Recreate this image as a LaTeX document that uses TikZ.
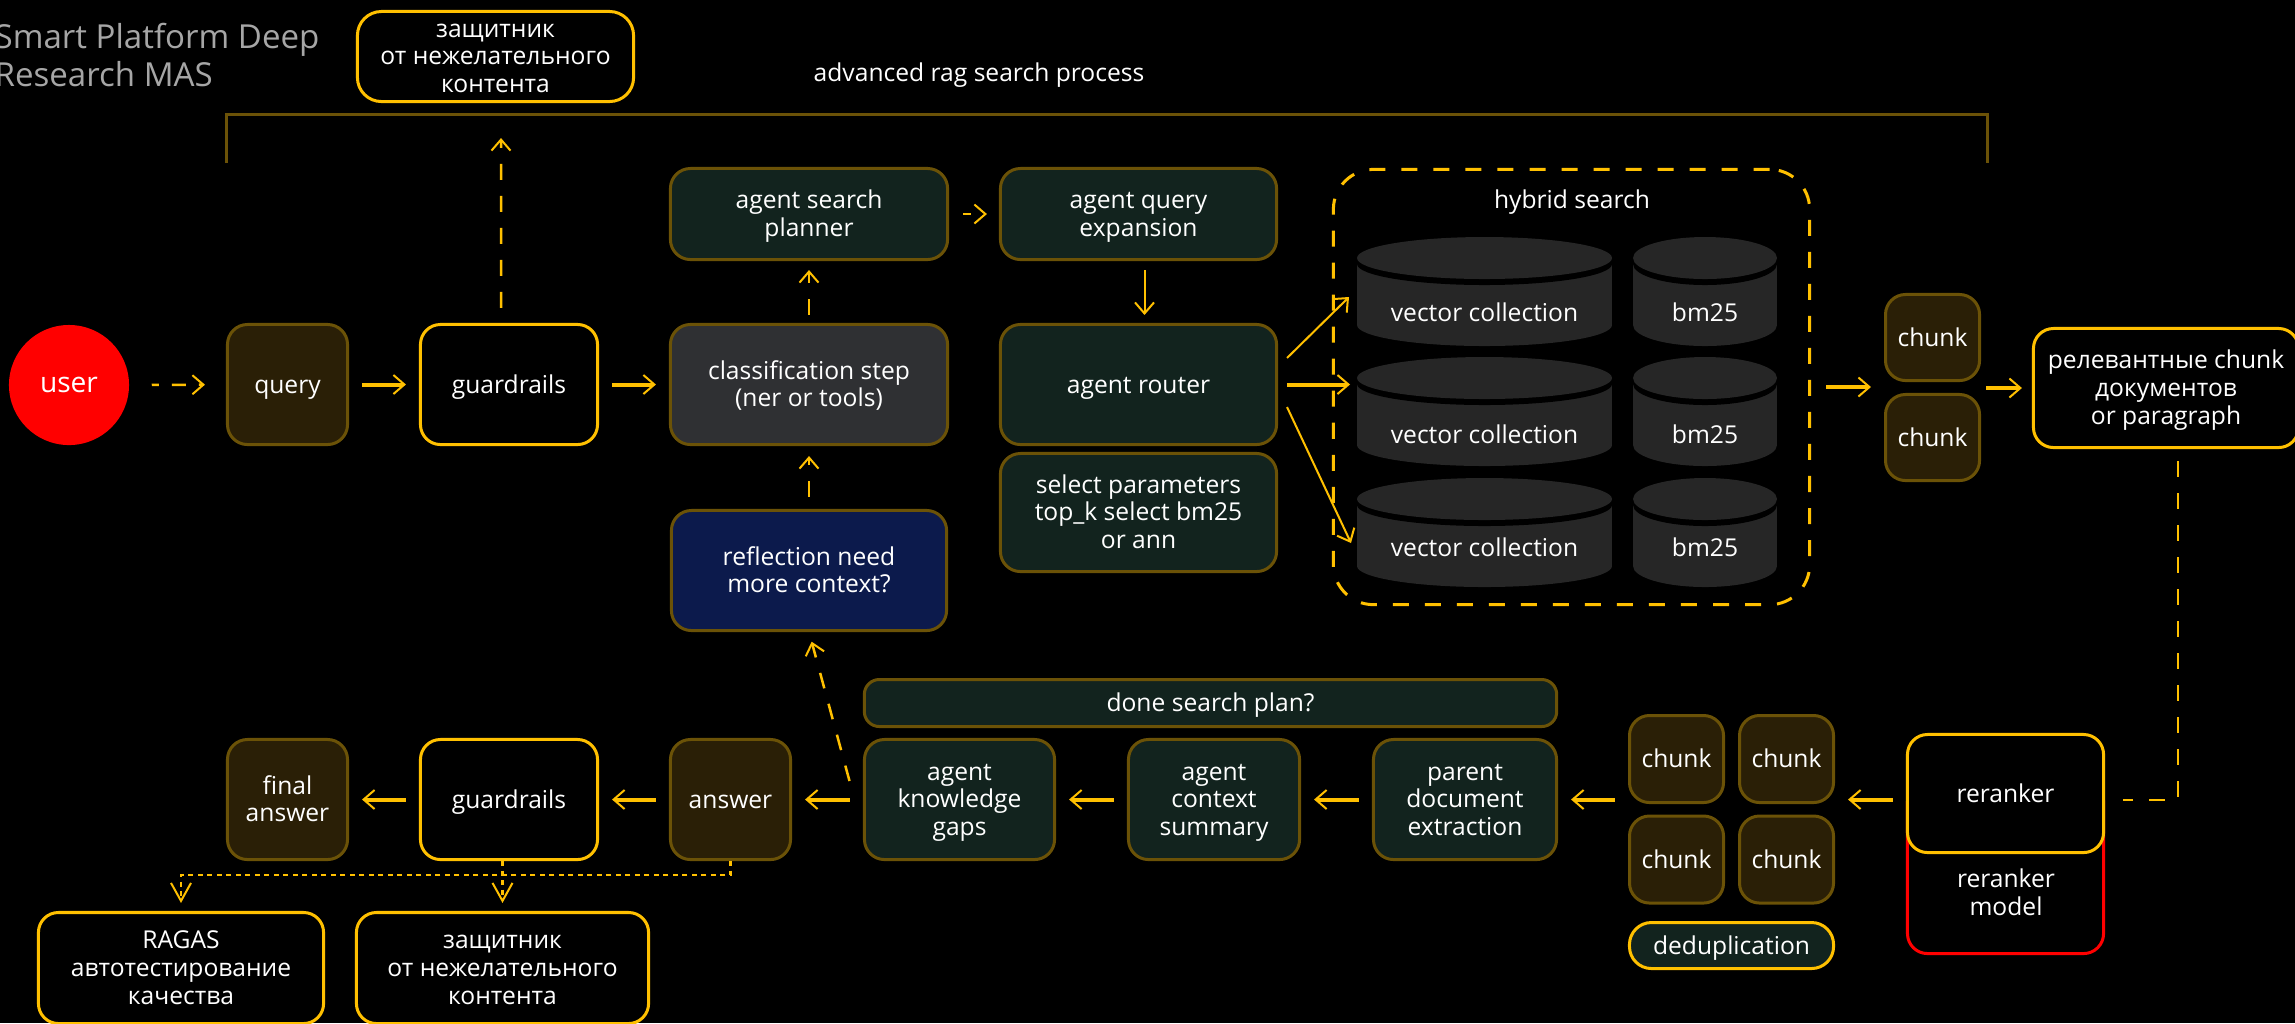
\documentclass[tikz,border=0pt]{standalone}
\usepackage{fontspec}
\usepackage{xcolor}
\usepackage{tikz}
\usetikzlibrary{arrows.meta, positioning}
\setmainfont{Open Sans}

\definecolor{gold}{HTML}{FFC000}
\definecolor{darkgold}{HTML}{6B5207}
\definecolor{greenfill}{HTML}{12231E}
\definecolor{brownfill}{HTML}{2A1F06}
\definecolor{greyfill}{HTML}{2F3033}
\definecolor{navyfill}{HTML}{0C1A4C}
\definecolor{cylfill}{HTML}{262626}
\definecolor{titlegrey}{HTML}{A6A6A6}

\tikzset{
    labeltext/.style={align=center, text=white, font=\fontsize{7}{7.9}\selectfont,
        text height=7.2pt, text depth=2.37pt},
    lines2/.style={text height=15.07pt},
    lines3/.style={text height=22.97pt},
    box/.style={labeltext, rounded corners=0.2cm, line width=0.03cm, inner sep=0pt},
    goldbox/.style={box, draw=gold, fill=black},
    brownbox/.style={box, draw=darkgold, fill=brownfill},
    greenbox/.style={box, draw=darkgold, fill=greenfill},
    redbox/.style={box, draw=red, fill=black},
    plain/.style={labeltext},
    barb/.style={-{Straight Barb[length=0.11cm, width=0.19cm, line width=0.02cm]}},
    solidarr/.style={barb, draw=gold, line width=0.04cm, shorten <=0.13cm, shorten >=0.13cm},
    thinarr/.style={barb, draw=gold, line width=0.02cm},
    dasharr/.style={barb, draw=gold, line width=0.025cm, dash pattern=on 0.16cm off 0.16cm},
    dotarr/.style={draw=gold, line width=0.025cm, dash pattern=on 0.05cm off 0.045cm,
        -{Straight Barb[length=0.18cm, width=0.2cm, line width=0.02cm]}}
}

\begin{document}
\begin{tikzpicture}[x=0.01cm, y=-0.01cm]
        \useasboundingbox (0,0) rectangle (2295,1023);
        \clip (0,0) rectangle (2295,1023);
        \fill[black] (0,0) rectangle (2295,1023);

        % Title and bracket
        \node[anchor=west, align=left, text=titlegrey, inner sep=0pt, font=\fontsize{9.4}{10.8}\selectfont] (title) at (-6,55) {Smart Platform Deep\\Research MAS};
        \node[plain] (ragtitle) at (979,73) {advanced rag search process};
        \draw[darkgold, line width=0.03cm] (226,163) -- (226,114) -- (1987,114) -- (1987,163);

        % Top row
        \node[circle, fill=red, text=white, inner sep=0pt, minimum size=1.2cm, font=\fontsize{8}{9}\selectfont] (user) at (69,385) {user};
        \node[brownbox, minimum width=1.2cm, minimum height=1.2cm] (query) at (287.5,384.5) {query};
        \node[goldbox, minimum width=1.77cm, minimum height=1.2cm] (guardA) at (509,384.5) {guardrails};
        \node[box, lines2, draw=darkgold, fill=greyfill, minimum width=2.77cm, minimum height=1.2cm] (classify) at (809,384.5) {classification step\\(ner or tools)};
        \node[goldbox, lines3, rounded corners=0.24cm, minimum width=2.76cm, minimum height=0.9cm] (shieldA) at (495.5,56.5) {защитник\\от нежелательного\\контента};
        \node[greenbox, lines2, minimum width=2.77cm, minimum height=0.91cm] (planner) at (809,214) {agent search\\planner};
        \node[greenbox, lines2, minimum width=2.76cm, minimum height=0.91cm] (expansion) at (1138.5,214) {agent query\\expansion};
        \node[greenbox, minimum width=2.76cm, minimum height=1.2cm] (router) at (1138.5,384.5) {agent router};
        \node[greenbox, lines3, minimum width=2.76cm, minimum height=1.18cm] (params) at (1138.5,512.5) {select parameters\\top\_k select bm25\\or ann};
        \node[box, lines2, draw=darkgold, fill=navyfill, minimum width=2.75cm, minimum height=1.2cm] (reflection) at (809,570.5) {reflection need\\more context?};

        % Hybrid search
        \node[box, rounded corners=0.4cm, draw=gold, dash pattern=on 0.16cm off 0.16cm, minimum width=4.76cm, minimum height=4.35cm] (hybrid) at (1571.5,387) {};
        \node[plain] (hybridlabel) at (1572,200) {hybrid search};
        \foreach \top/\texty/\row in {237/313/A, 357/435/B, 478/548/C} {
            \foreach \cx/\rx/\lab/\name in {1484.5/127.5/vector collection/vec, 1705/72/bm25/bm} {
                \fill[cylfill] (\cx-\rx,\top+27) rectangle (\cx+\rx,\top+88);
                \fill[cylfill] (\cx,\top+88) ellipse [x radius=\rx, y radius=21];
                \fill[black] (\cx,\top+27) ellipse [x radius=\rx, y radius=21];
                \fill[cylfill] (\cx,\top+21) ellipse [x radius=\rx, y radius=21];
                \node[plain] (\name\row) at (\cx,\texty) {\lab};
            }
        }

        % Chunks after search
        \node[brownbox, minimum width=0.94cm, minimum height=0.86cm] (chunkTop) at (1932.5,337.5) {chunk};
        \node[brownbox, minimum width=0.94cm, minimum height=0.86cm] (chunkLow) at (1932.5,437.5) {chunk};
        \node[goldbox, lines3, minimum width=2.65cm, minimum height=1.19cm] (relevant) at (2166,388) {релевантные chunk\\документов\\or paragraph};

        % Reranker
        \node[redbox, minimum width=1.96cm, minimum height=1.72cm] (model) at (2005.5,867.5) {};
        \node[goldbox, minimum width=1.96cm, minimum height=1.18cm] (reranker) at (2005.5,793.5) {reranker};
        \node[plain, lines2] (modellabel) at (2006,893) {reranker\\model};

        % Deduplicated chunks
        \foreach \x/\y/\name in {1676.5/759/chunkA, 1786.5/759/chunkB, 1676.5/859.5/chunkC, 1786.5/859.5/chunkD} {
            \node[brownbox, minimum width=0.94cm, minimum height=0.87cm] (\name) at (\x,\y) {chunk};
        }
        \node[box, rounded corners=0.22cm, draw=gold, fill=greenfill, minimum width=2.04cm, minimum height=0.46cm] (dedup) at (1731.5,945.5) {deduplication};

        % Bottom row
        \node[greenbox, rounded corners=0.15cm, minimum width=6.92cm, minimum height=0.47cm] (done) at (1210.5,703) {done search plan?};
        \node[greenbox, lines3, minimum width=1.83cm, minimum height=1.2cm] (parent) at (1465,799.5) {parent\\document\\extraction};
        \node[greenbox, lines3, minimum width=1.71cm, minimum height=1.2cm] (summary) at (1214,799.5) {agent\\context\\summary};
        \node[greenbox, lines3, minimum width=1.9cm, minimum height=1.2cm] (gaps) at (959.5,799.5) {agent\\knowledge\\gaps};
        \node[brownbox, minimum width=1.2cm, minimum height=1.2cm] (answer) at (730.5,799.5) {answer};
        \node[goldbox, minimum width=1.77cm, minimum height=1.2cm] (guardB) at (509,799.5) {guardrails};
        \node[brownbox, lines2, minimum width=1.2cm, minimum height=1.2cm] (final) at (287.5,799.5) {final\\answer};
        \node[goldbox, lines3, minimum width=2.85cm, minimum height=1.11cm] (ragas) at (181,968) {RAGAS\\автотестирование\\качества};
        \node[goldbox, lines3, minimum width=2.92cm, minimum height=1.11cm] (shieldB) at (502.5,968) {защитник\\от нежелательного\\контента};

        % Helper points
        \coordinate (routerA) at (1287,358);
        \coordinate (routerC) at (1287,407);
        \coordinate (vecTop) at (1349,297);
        \coordinate (vecLow) at (1351,543);
        \coordinate (turn) at (2178,800);
        \coordinate (loopstart) at (849.5,781);
        \coordinate (dotline) at (0,875);

        % Solid arrows
        \foreach \a/\b in {query/guardA, guardA/classify, gaps/answer, answer/guardB, guardB/final, summary/gaps, parent/summary} {
            \draw[solidarr] (\a) -- (\b);
        }
        \draw[solidarr] (reranker.west |- parent) -- (chunkD.east |- parent);
        \draw[solidarr] (chunkC.west |- parent) -- (parent.east);
        \draw[solidarr, shorten <=0.15cm, shorten >=0.13cm] (hybrid.east) -- (hybrid.east -| chunkTop.west);
        \draw[solidarr, shorten <=0.05cm, shorten >=0.1cm] (chunkTop.east |- relevant.west) -- (relevant.west);
        \draw[solidarr, shorten <=0.09cm, shorten >=0cm] (router.east) -- (router.east -| 1350,0);

        % Thin arrows
        \draw[thinarr, shorten <=0.09cm, shorten >=0.08cm] (expansion.south -| 1144.5,0) -- (router.north -| 1144.5,0);
        \draw[thinarr] (routerA) -- (vecTop);
        \draw[thinarr] (routerC) -- (vecLow);

        % Dashed arrows
        \draw[dasharr, shorten <=0.22cm, shorten >=0.21cm, dash pattern=on 0.14cm off 0.13cm, dash phase=0.07cm] (user) -- (query);
        \draw[dasharr, shorten <=0.14cm, shorten >=0.12cm, dash phase=0.08cm] (planner) -- (expansion);
        \draw[dasharr, shorten <=0.15cm, shorten >=0.35cm] ([xshift=-0.08cm]guardA.north) -- ([xshift=0.055cm]shieldA.south);
        \draw[dasharr, shorten <=0.08cm, shorten >=0.09cm] (classify) -- (planner);
        \draw[dasharr, shorten <=0.12cm, shorten >=0.1cm] (reflection) -- (classify);
        \draw[dasharr, shorten >=0.1cm] (loopstart) -- (reflection.south);
        \draw[gold, line width=0.025cm, dash pattern=on 0.16cm off 0.16cm, shorten <=0.12cm, shorten >=0.18cm] (relevant.south -| turn) -- (turn) -- (reranker.east |- turn);

        % Dotted feedback to quality checks
        \draw[dotarr, shorten >=0.08cm] (answer.south) -- (answer.south |- dotline) -- (ragas.north |- dotline) -- (ragas.north);
        \draw[dotarr, shorten >=0.08cm] (guardB.south -| shieldB.north) -- (shieldB.north);

    \end{tikzpicture}
\end{document}
